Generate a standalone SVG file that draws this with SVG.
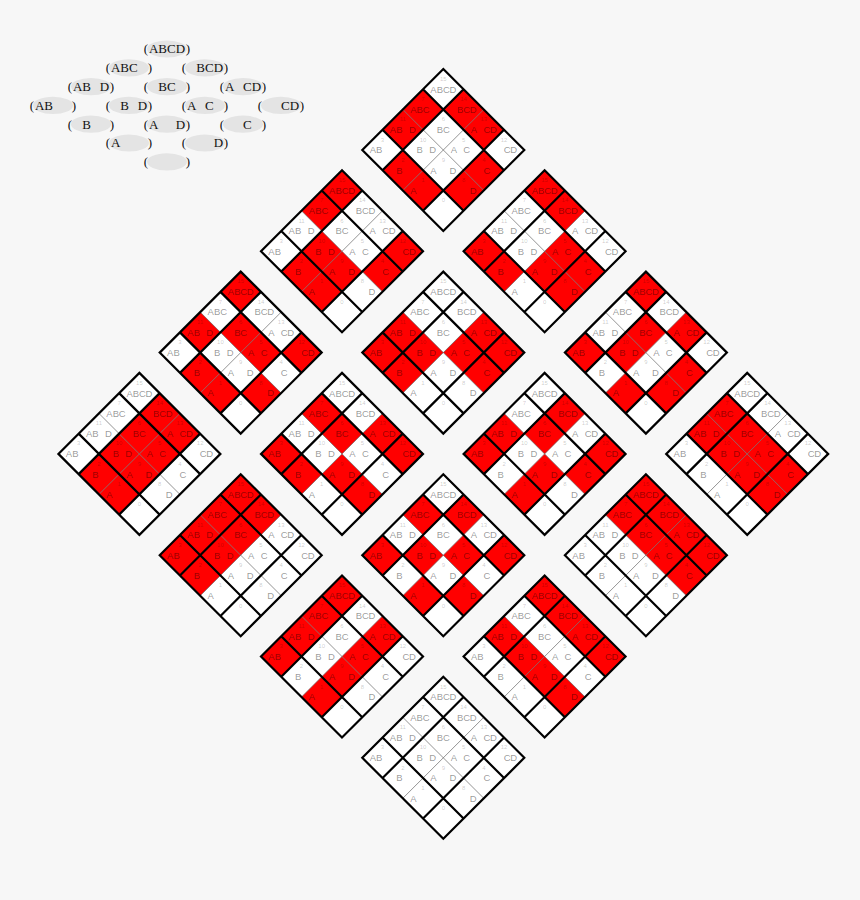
<svg xmlns="http://www.w3.org/2000/svg" xmlns:xlink="http://www.w3.org/1999/xlink" width="860" height="900" viewBox="0 0 860 900">
<style>
.l{font-family:"Liberation Sans",Arial,sans-serif;font-size:9.5px;fill:#000;fill-opacity:.42;text-anchor:middle}
.n{font-family:"Liberation Sans",Arial,sans-serif;font-size:6px;fill:#000;fill-opacity:.22;text-anchor:middle}
.g{font-family:"Liberation Serif","Times New Roman",serif;font-size:13px;fill:#111;text-anchor:middle}
.e{fill:#e4e4e4}
.r{fill:#f00}
.tk{stroke:#000;stroke-width:2.2;fill:none;stroke-linejoin:miter}
.tn{stroke:#666;stroke-width:.7;fill:none}
</style>
<defs>
<path id="bg" d="M0,0L81,81L0,162L-81,81Z" fill="#fff"/>
<path id="c" d="M0,-20.25L20.25,0L0,20.25L-20.25,0Z"/>
<g id="grid">
<path class="tn" d="M-40.5,40.5L40.5,121.5M40.5,40.5L-40.5,121.5"/>
<path class="tk" d="M0,0L81,81L0,162L-81,81Z M-20.25,20.25L60.75,101.25 M-60.75,60.75L20.25,141.75 M20.25,20.25L-60.75,101.25 M60.75,60.75L-20.25,141.75"/>
</g>
</defs>
<rect width="860" height="900" fill="#f7f7f7"/>

<g id="legend">
<g id="leg_ABCD"><ellipse class="e" cx="167" cy="49" rx="20" ry="8.6"/><text class="g" x="146 153.6 162.7 171.3 180.4 188" y="53.3">(ABCD)</text></g>
<g id="leg_BCD"><ellipse class="e" cx="205" cy="67.8" rx="20" ry="8.6"/><text class="g" x="184 191.6 200.7 209.3 218.4 226" y="72.1">( BCD)</text></g>
<g id="leg_ABC"><ellipse class="e" cx="129" cy="67.8" rx="20" ry="8.6"/><text class="g" x="108 115.6 124.7 133.3 142.4 150" y="72.1">(ABC )</text></g>
<g id="leg_ACD"><ellipse class="e" cx="243" cy="86.6" rx="20" ry="8.6"/><text class="g" x="222 229.6 238.7 247.3 256.4 264" y="90.9">(A CD)</text></g>
<g id="leg_BC"><ellipse class="e" cx="167" cy="86.6" rx="20" ry="8.6"/><text class="g" x="146 153.6 162.7 171.3 180.4 188" y="90.9">( BC )</text></g>
<g id="leg_ABD"><ellipse class="e" cx="91" cy="86.6" rx="20" ry="8.6"/><text class="g" x="70 77.6 86.7 95.3 104.4 112" y="90.9">(AB D)</text></g>
<g id="leg_CD"><ellipse class="e" cx="281" cy="105.4" rx="20" ry="8.6"/><text class="g" x="260 270 285.3 294.4 302" y="109.7">( CD)</text></g>
<g id="leg_AC"><ellipse class="e" cx="205" cy="105.4" rx="20" ry="8.6"/><text class="g" x="184 191.6 200.7 209.3 218.4 226" y="109.7">(A C )</text></g>
<g id="leg_BD"><ellipse class="e" cx="129" cy="105.4" rx="20" ry="8.6"/><text class="g" x="108 115.6 124.7 133.3 142.4 150" y="109.7">( B D)</text></g>
<g id="leg_AB"><ellipse class="e" cx="53" cy="105.4" rx="20" ry="8.6"/><text class="g" x="32 39.6 48.7 61.8 74" y="109.7">(AB )</text></g>
<g id="leg_C"><ellipse class="e" cx="243" cy="124.2" rx="20" ry="8.6"/><text class="g" x="222 233.6 247.3 256.4 264" y="128.5">( C )</text></g>
<g id="leg_AD"><ellipse class="e" cx="167" cy="124.2" rx="20" ry="8.6"/><text class="g" x="146 153.6 167 180.4 188" y="128.5">(A D)</text></g>
<g id="leg_B"><ellipse class="e" cx="91" cy="124.2" rx="20" ry="8.6"/><text class="g" x="70 77.6 86.7 99.8 112" y="128.5">( B )</text></g>
<g id="leg_D"><ellipse class="e" cx="205" cy="143" rx="20" ry="8.6"/><text class="g" x="184 200 218.4 226" y="147.3">( D)</text></g>
<g id="leg_A"><ellipse class="e" cx="129" cy="143" rx="20" ry="8.6"/><text class="g" x="108 115.6 129 150" y="147.3">(A )</text></g>
<g id="leg_empty"><ellipse class="e" cx="167" cy="161.8" rx="20" ry="8.6"/><text class="g" x="146 167 188" y="166.1">( )</text></g>
</g>

<g id="k_ABCD" transform="translate(443.3,69)">
<use href="#bg"/>
<use class="r" href="#c" x="-20.25" y="121.5"/><use class="r" href="#c" x="-40.5" y="101.25"/><use class="r" href="#c" x="40.5" y="101.25"/><use class="r" href="#c" x="20.25" y="121.5"/><use class="r" href="#c" x="-20.25" y="40.5"/><use class="r" href="#c" x="-40.5" y="60.75"/><use class="r" href="#c" x="40.5" y="60.75"/><use class="r" href="#c" x="20.25" y="40.5"/>
<use href="#grid"/>
<text class="l" x="-9.8 -3.4 3.1 9.6" y="23.7">ABCD</text><text class="l" x="16.9 23.4 29.9" y="43.9">BCD</text><text class="l" x="30.7 37.2 43.6 50.1" y="64.2">A CD</text><text class="l" x="63.9 70.4" y="84.4">CD</text><text class="l" x="-30 -23.6 -17.1" y="43.9">ABC</text><text class="l" x="-3.4 3.1" y="64.2">BC</text><text class="l" x="10.5 17 23.4" y="84.4">A C</text><text class="l" x="43.6" y="104.7">C</text><text class="l" x="-50.3 -43.9 -37.4 -30.9" y="64.2">AB D</text><text class="l" x="-23.6 -17.1 -10.6" y="84.4">B D</text><text class="l" x="-9.8 0 9.6" y="104.7">A D</text><text class="l" x="29.9" y="124.9">D</text><text class="l" x="-70.5 -64.1" y="84.4">AB</text><text class="l" x="-43.9" y="104.7">B</text><text class="l" x="-30" y="124.9">A</text>
<text class="n" x="0" y="11.9">15</text><text class="n" x="20.3" y="32.1">14</text><text class="n" x="40.5" y="52.4">13</text><text class="n" x="60.8" y="72.6">12</text><text class="n" x="-20.3" y="32.1">7</text><text class="n" x="0" y="52.4">6</text><text class="n" x="20.3" y="72.6">5</text><text class="n" x="40.5" y="92.9">4</text><text class="n" x="-40.5" y="52.4">11</text><text class="n" x="-20.3" y="72.6">10</text><text class="n" x="0" y="92.9">9</text><text class="n" x="20.3" y="113.1">8</text><text class="n" x="-60.8" y="72.6">3</text><text class="n" x="-40.5" y="92.9">2</text><text class="n" x="-20.3" y="113.1">1</text><text class="n" x="0" y="133.4">0</text>
</g>

<g id="k_BCD" transform="translate(544.6,170.3)">
<use href="#bg"/>
<use class="r" href="#c" x="-40.5" y="101.25"/><use class="r" href="#c" x="-60.75" y="81"/><use class="r" href="#c" x="40.5" y="101.25"/><use class="r" href="#c" x="20.25" y="81"/><use class="r" href="#c" x="20.25" y="121.5"/><use class="r" href="#c" x="0" y="101.25"/><use class="r" href="#c" x="20.25" y="40.5"/><use class="r" href="#c" x="0" y="20.25"/>
<use href="#grid"/>
<text class="l" x="-9.8 -3.4 3.1 9.6" y="23.7">ABCD</text><text class="l" x="16.9 23.4 29.9" y="43.9">BCD</text><text class="l" x="30.7 37.2 43.6 50.1" y="64.2">A CD</text><text class="l" x="63.9 70.4" y="84.4">CD</text><text class="l" x="-30 -23.6 -17.1" y="43.9">ABC</text><text class="l" x="-3.4 3.1" y="64.2">BC</text><text class="l" x="10.5 17 23.4" y="84.4">A C</text><text class="l" x="43.6" y="104.7">C</text><text class="l" x="-50.3 -43.9 -37.4 -30.9" y="64.2">AB D</text><text class="l" x="-23.6 -17.1 -10.6" y="84.4">B D</text><text class="l" x="-9.8 0 9.6" y="104.7">A D</text><text class="l" x="29.9" y="124.9">D</text><text class="l" x="-70.5 -64.1" y="84.4">AB</text><text class="l" x="-43.9" y="104.7">B</text><text class="l" x="-30" y="124.9">A</text>
<text class="n" x="0" y="11.9">15</text><text class="n" x="20.3" y="32.1">14</text><text class="n" x="40.5" y="52.4">13</text><text class="n" x="60.8" y="72.6">12</text><text class="n" x="-20.3" y="32.1">7</text><text class="n" x="0" y="52.4">6</text><text class="n" x="20.3" y="72.6">5</text><text class="n" x="40.5" y="92.9">4</text><text class="n" x="-40.5" y="52.4">11</text><text class="n" x="-20.3" y="72.6">10</text><text class="n" x="0" y="92.9">9</text><text class="n" x="20.3" y="113.1">8</text><text class="n" x="-60.8" y="72.6">3</text><text class="n" x="-40.5" y="92.9">2</text><text class="n" x="-20.3" y="113.1">1</text><text class="n" x="0" y="133.4">0</text>
</g>

<g id="k_ACD" transform="translate(645.9,271.6)">
<use href="#bg"/>
<use class="r" href="#c" x="-20.25" y="121.5"/><use class="r" href="#c" x="-60.75" y="81"/><use class="r" href="#c" x="40.5" y="101.25"/><use class="r" href="#c" x="0" y="60.75"/><use class="r" href="#c" x="20.25" y="121.5"/><use class="r" href="#c" x="-20.25" y="81"/><use class="r" href="#c" x="40.5" y="60.75"/><use class="r" href="#c" x="0" y="20.25"/>
<use href="#grid"/>
<text class="l" x="-9.8 -3.4 3.1 9.6" y="23.7">ABCD</text><text class="l" x="16.9 23.4 29.9" y="43.9">BCD</text><text class="l" x="30.7 37.2 43.6 50.1" y="64.2">A CD</text><text class="l" x="63.9 70.4" y="84.4">CD</text><text class="l" x="-30 -23.6 -17.1" y="43.9">ABC</text><text class="l" x="-3.4 3.1" y="64.2">BC</text><text class="l" x="10.5 17 23.4" y="84.4">A C</text><text class="l" x="43.6" y="104.7">C</text><text class="l" x="-50.3 -43.9 -37.4 -30.9" y="64.2">AB D</text><text class="l" x="-23.6 -17.1 -10.6" y="84.4">B D</text><text class="l" x="-9.8 0 9.6" y="104.7">A D</text><text class="l" x="29.9" y="124.9">D</text><text class="l" x="-70.5 -64.1" y="84.4">AB</text><text class="l" x="-43.9" y="104.7">B</text><text class="l" x="-30" y="124.9">A</text>
<text class="n" x="0" y="11.9">15</text><text class="n" x="20.3" y="32.1">14</text><text class="n" x="40.5" y="52.4">13</text><text class="n" x="60.8" y="72.6">12</text><text class="n" x="-20.3" y="32.1">7</text><text class="n" x="0" y="52.4">6</text><text class="n" x="20.3" y="72.6">5</text><text class="n" x="40.5" y="92.9">4</text><text class="n" x="-40.5" y="52.4">11</text><text class="n" x="-20.3" y="72.6">10</text><text class="n" x="0" y="92.9">9</text><text class="n" x="20.3" y="113.1">8</text><text class="n" x="-60.8" y="72.6">3</text><text class="n" x="-40.5" y="92.9">2</text><text class="n" x="-20.3" y="113.1">1</text><text class="n" x="0" y="133.4">0</text>
</g>

<g id="k_CD" transform="translate(747.2,372.9)">
<use href="#bg"/>
<use class="r" href="#c" x="40.5" y="101.25"/><use class="r" href="#c" x="20.25" y="81"/><use class="r" href="#c" x="0" y="60.75"/><use class="r" href="#c" x="-20.25" y="40.5"/><use class="r" href="#c" x="20.25" y="121.5"/><use class="r" href="#c" x="0" y="101.25"/><use class="r" href="#c" x="-20.25" y="81"/><use class="r" href="#c" x="-40.5" y="60.75"/>
<use href="#grid"/>
<text class="l" x="-9.8 -3.4 3.1 9.6" y="23.7">ABCD</text><text class="l" x="16.9 23.4 29.9" y="43.9">BCD</text><text class="l" x="30.7 37.2 43.6 50.1" y="64.2">A CD</text><text class="l" x="63.9 70.4" y="84.4">CD</text><text class="l" x="-30 -23.6 -17.1" y="43.9">ABC</text><text class="l" x="-3.4 3.1" y="64.2">BC</text><text class="l" x="10.5 17 23.4" y="84.4">A C</text><text class="l" x="43.6" y="104.7">C</text><text class="l" x="-50.3 -43.9 -37.4 -30.9" y="64.2">AB D</text><text class="l" x="-23.6 -17.1 -10.6" y="84.4">B D</text><text class="l" x="-9.8 0 9.6" y="104.7">A D</text><text class="l" x="29.9" y="124.9">D</text><text class="l" x="-70.5 -64.1" y="84.4">AB</text><text class="l" x="-43.9" y="104.7">B</text><text class="l" x="-30" y="124.9">A</text>
<text class="n" x="0" y="11.9">15</text><text class="n" x="20.3" y="32.1">14</text><text class="n" x="40.5" y="52.4">13</text><text class="n" x="60.8" y="72.6">12</text><text class="n" x="-20.3" y="32.1">7</text><text class="n" x="0" y="52.4">6</text><text class="n" x="20.3" y="72.6">5</text><text class="n" x="40.5" y="92.9">4</text><text class="n" x="-40.5" y="52.4">11</text><text class="n" x="-20.3" y="72.6">10</text><text class="n" x="0" y="92.9">9</text><text class="n" x="20.3" y="113.1">8</text><text class="n" x="-60.8" y="72.6">3</text><text class="n" x="-40.5" y="92.9">2</text><text class="n" x="-20.3" y="113.1">1</text><text class="n" x="0" y="133.4">0</text>
</g>

<g id="k_ABC" transform="translate(342,170.3)">
<use href="#bg"/>
<use class="r" href="#c" x="-20.25" y="121.5"/><use class="r" href="#c" x="-40.5" y="101.25"/><use class="r" href="#c" x="40.5" y="101.25"/><use class="r" href="#c" x="-20.25" y="40.5"/><use class="r" href="#c" x="0" y="101.25"/><use class="r" href="#c" x="-20.25" y="81"/><use class="r" href="#c" x="60.75" y="81"/><use class="r" href="#c" x="0" y="20.25"/>
<use href="#grid"/>
<text class="l" x="-9.8 -3.4 3.1 9.6" y="23.7">ABCD</text><text class="l" x="16.9 23.4 29.9" y="43.9">BCD</text><text class="l" x="30.7 37.2 43.6 50.1" y="64.2">A CD</text><text class="l" x="63.9 70.4" y="84.4">CD</text><text class="l" x="-30 -23.6 -17.1" y="43.9">ABC</text><text class="l" x="-3.4 3.1" y="64.2">BC</text><text class="l" x="10.5 17 23.4" y="84.4">A C</text><text class="l" x="43.6" y="104.7">C</text><text class="l" x="-50.3 -43.9 -37.4 -30.9" y="64.2">AB D</text><text class="l" x="-23.6 -17.1 -10.6" y="84.4">B D</text><text class="l" x="-9.8 0 9.6" y="104.7">A D</text><text class="l" x="29.9" y="124.9">D</text><text class="l" x="-70.5 -64.1" y="84.4">AB</text><text class="l" x="-43.9" y="104.7">B</text><text class="l" x="-30" y="124.9">A</text>
<text class="n" x="0" y="11.9">15</text><text class="n" x="20.3" y="32.1">14</text><text class="n" x="40.5" y="52.4">13</text><text class="n" x="60.8" y="72.6">12</text><text class="n" x="-20.3" y="32.1">7</text><text class="n" x="0" y="52.4">6</text><text class="n" x="20.3" y="72.6">5</text><text class="n" x="40.5" y="92.9">4</text><text class="n" x="-40.5" y="52.4">11</text><text class="n" x="-20.3" y="72.6">10</text><text class="n" x="0" y="92.9">9</text><text class="n" x="20.3" y="113.1">8</text><text class="n" x="-60.8" y="72.6">3</text><text class="n" x="-40.5" y="92.9">2</text><text class="n" x="-20.3" y="113.1">1</text><text class="n" x="0" y="133.4">0</text>
</g>

<g id="k_BC" transform="translate(443.3,271.6)">
<use href="#bg"/>
<use class="r" href="#c" x="-40.5" y="101.25"/><use class="r" href="#c" x="-60.75" y="81"/><use class="r" href="#c" x="40.5" y="101.25"/><use class="r" href="#c" x="20.25" y="81"/><use class="r" href="#c" x="-20.25" y="81"/><use class="r" href="#c" x="-40.5" y="60.75"/><use class="r" href="#c" x="60.75" y="81"/><use class="r" href="#c" x="40.5" y="60.75"/>
<use href="#grid"/>
<text class="l" x="-9.8 -3.4 3.1 9.6" y="23.7">ABCD</text><text class="l" x="16.9 23.4 29.9" y="43.9">BCD</text><text class="l" x="30.7 37.2 43.6 50.1" y="64.2">A CD</text><text class="l" x="63.9 70.4" y="84.4">CD</text><text class="l" x="-30 -23.6 -17.1" y="43.9">ABC</text><text class="l" x="-3.4 3.1" y="64.2">BC</text><text class="l" x="10.5 17 23.4" y="84.4">A C</text><text class="l" x="43.6" y="104.7">C</text><text class="l" x="-50.3 -43.9 -37.4 -30.9" y="64.2">AB D</text><text class="l" x="-23.6 -17.1 -10.6" y="84.4">B D</text><text class="l" x="-9.8 0 9.6" y="104.7">A D</text><text class="l" x="29.9" y="124.9">D</text><text class="l" x="-70.5 -64.1" y="84.4">AB</text><text class="l" x="-43.9" y="104.7">B</text><text class="l" x="-30" y="124.9">A</text>
<text class="n" x="0" y="11.9">15</text><text class="n" x="20.3" y="32.1">14</text><text class="n" x="40.5" y="52.4">13</text><text class="n" x="60.8" y="72.6">12</text><text class="n" x="-20.3" y="32.1">7</text><text class="n" x="0" y="52.4">6</text><text class="n" x="20.3" y="72.6">5</text><text class="n" x="40.5" y="92.9">4</text><text class="n" x="-40.5" y="52.4">11</text><text class="n" x="-20.3" y="72.6">10</text><text class="n" x="0" y="92.9">9</text><text class="n" x="20.3" y="113.1">8</text><text class="n" x="-60.8" y="72.6">3</text><text class="n" x="-40.5" y="92.9">2</text><text class="n" x="-20.3" y="113.1">1</text><text class="n" x="0" y="133.4">0</text>
</g>

<g id="k_AC" transform="translate(544.6,372.9)">
<use href="#bg"/>
<use class="r" href="#c" x="-20.25" y="121.5"/><use class="r" href="#c" x="-60.75" y="81"/><use class="r" href="#c" x="40.5" y="101.25"/><use class="r" href="#c" x="0" y="60.75"/><use class="r" href="#c" x="0" y="101.25"/><use class="r" href="#c" x="-40.5" y="60.75"/><use class="r" href="#c" x="60.75" y="81"/><use class="r" href="#c" x="20.25" y="40.5"/>
<use href="#grid"/>
<text class="l" x="-9.8 -3.4 3.1 9.6" y="23.7">ABCD</text><text class="l" x="16.9 23.4 29.9" y="43.9">BCD</text><text class="l" x="30.7 37.2 43.6 50.1" y="64.2">A CD</text><text class="l" x="63.9 70.4" y="84.4">CD</text><text class="l" x="-30 -23.6 -17.1" y="43.9">ABC</text><text class="l" x="-3.4 3.1" y="64.2">BC</text><text class="l" x="10.5 17 23.4" y="84.4">A C</text><text class="l" x="43.6" y="104.7">C</text><text class="l" x="-50.3 -43.9 -37.4 -30.9" y="64.2">AB D</text><text class="l" x="-23.6 -17.1 -10.6" y="84.4">B D</text><text class="l" x="-9.8 0 9.6" y="104.7">A D</text><text class="l" x="29.9" y="124.9">D</text><text class="l" x="-70.5 -64.1" y="84.4">AB</text><text class="l" x="-43.9" y="104.7">B</text><text class="l" x="-30" y="124.9">A</text>
<text class="n" x="0" y="11.9">15</text><text class="n" x="20.3" y="32.1">14</text><text class="n" x="40.5" y="52.4">13</text><text class="n" x="60.8" y="72.6">12</text><text class="n" x="-20.3" y="32.1">7</text><text class="n" x="0" y="52.4">6</text><text class="n" x="20.3" y="72.6">5</text><text class="n" x="40.5" y="92.9">4</text><text class="n" x="-40.5" y="52.4">11</text><text class="n" x="-20.3" y="72.6">10</text><text class="n" x="0" y="92.9">9</text><text class="n" x="20.3" y="113.1">8</text><text class="n" x="-60.8" y="72.6">3</text><text class="n" x="-40.5" y="92.9">2</text><text class="n" x="-20.3" y="113.1">1</text><text class="n" x="0" y="133.4">0</text>
</g>

<g id="k_C" transform="translate(645.9,474.2)">
<use href="#bg"/>
<use class="r" href="#c" x="40.5" y="101.25"/><use class="r" href="#c" x="20.25" y="81"/><use class="r" href="#c" x="0" y="60.75"/><use class="r" href="#c" x="-20.25" y="40.5"/><use class="r" href="#c" x="60.75" y="81"/><use class="r" href="#c" x="40.5" y="60.75"/><use class="r" href="#c" x="20.25" y="40.5"/><use class="r" href="#c" x="0" y="20.25"/>
<use href="#grid"/>
<text class="l" x="-9.8 -3.4 3.1 9.6" y="23.7">ABCD</text><text class="l" x="16.9 23.4 29.9" y="43.9">BCD</text><text class="l" x="30.7 37.2 43.6 50.1" y="64.2">A CD</text><text class="l" x="63.9 70.4" y="84.4">CD</text><text class="l" x="-30 -23.6 -17.1" y="43.9">ABC</text><text class="l" x="-3.4 3.1" y="64.2">BC</text><text class="l" x="10.5 17 23.4" y="84.4">A C</text><text class="l" x="43.6" y="104.7">C</text><text class="l" x="-50.3 -43.9 -37.4 -30.9" y="64.2">AB D</text><text class="l" x="-23.6 -17.1 -10.6" y="84.4">B D</text><text class="l" x="-9.8 0 9.6" y="104.7">A D</text><text class="l" x="29.9" y="124.9">D</text><text class="l" x="-70.5 -64.1" y="84.4">AB</text><text class="l" x="-43.9" y="104.7">B</text><text class="l" x="-30" y="124.9">A</text>
<text class="n" x="0" y="11.9">15</text><text class="n" x="20.3" y="32.1">14</text><text class="n" x="40.5" y="52.4">13</text><text class="n" x="60.8" y="72.6">12</text><text class="n" x="-20.3" y="32.1">7</text><text class="n" x="0" y="52.4">6</text><text class="n" x="20.3" y="72.6">5</text><text class="n" x="40.5" y="92.9">4</text><text class="n" x="-40.5" y="52.4">11</text><text class="n" x="-20.3" y="72.6">10</text><text class="n" x="0" y="92.9">9</text><text class="n" x="20.3" y="113.1">8</text><text class="n" x="-60.8" y="72.6">3</text><text class="n" x="-40.5" y="92.9">2</text><text class="n" x="-20.3" y="113.1">1</text><text class="n" x="0" y="133.4">0</text>
</g>

<g id="k_ABD" transform="translate(240.7,271.6)">
<use href="#bg"/>
<use class="r" href="#c" x="-20.25" y="121.5"/><use class="r" href="#c" x="-40.5" y="101.25"/><use class="r" href="#c" x="20.25" y="81"/><use class="r" href="#c" x="0" y="60.75"/><use class="r" href="#c" x="20.25" y="121.5"/><use class="r" href="#c" x="-40.5" y="60.75"/><use class="r" href="#c" x="60.75" y="81"/><use class="r" href="#c" x="0" y="20.25"/>
<use href="#grid"/>
<text class="l" x="-9.8 -3.4 3.1 9.6" y="23.7">ABCD</text><text class="l" x="16.9 23.4 29.9" y="43.9">BCD</text><text class="l" x="30.7 37.2 43.6 50.1" y="64.2">A CD</text><text class="l" x="63.9 70.4" y="84.4">CD</text><text class="l" x="-30 -23.6 -17.1" y="43.9">ABC</text><text class="l" x="-3.4 3.1" y="64.2">BC</text><text class="l" x="10.5 17 23.4" y="84.4">A C</text><text class="l" x="43.6" y="104.7">C</text><text class="l" x="-50.3 -43.9 -37.4 -30.9" y="64.2">AB D</text><text class="l" x="-23.6 -17.1 -10.6" y="84.4">B D</text><text class="l" x="-9.8 0 9.6" y="104.7">A D</text><text class="l" x="29.9" y="124.9">D</text><text class="l" x="-70.5 -64.1" y="84.4">AB</text><text class="l" x="-43.9" y="104.7">B</text><text class="l" x="-30" y="124.9">A</text>
<text class="n" x="0" y="11.9">15</text><text class="n" x="20.3" y="32.1">14</text><text class="n" x="40.5" y="52.4">13</text><text class="n" x="60.8" y="72.6">12</text><text class="n" x="-20.3" y="32.1">7</text><text class="n" x="0" y="52.4">6</text><text class="n" x="20.3" y="72.6">5</text><text class="n" x="40.5" y="92.9">4</text><text class="n" x="-40.5" y="52.4">11</text><text class="n" x="-20.3" y="72.6">10</text><text class="n" x="0" y="92.9">9</text><text class="n" x="20.3" y="113.1">8</text><text class="n" x="-60.8" y="72.6">3</text><text class="n" x="-40.5" y="92.9">2</text><text class="n" x="-20.3" y="113.1">1</text><text class="n" x="0" y="133.4">0</text>
</g>

<g id="k_BD" transform="translate(342,372.9)">
<use href="#bg"/>
<use class="r" href="#c" x="-40.5" y="101.25"/><use class="r" href="#c" x="-60.75" y="81"/><use class="r" href="#c" x="0" y="60.75"/><use class="r" href="#c" x="-20.25" y="40.5"/><use class="r" href="#c" x="20.25" y="121.5"/><use class="r" href="#c" x="0" y="101.25"/><use class="r" href="#c" x="60.75" y="81"/><use class="r" href="#c" x="40.5" y="60.75"/>
<use href="#grid"/>
<text class="l" x="-9.8 -3.4 3.1 9.6" y="23.7">ABCD</text><text class="l" x="16.9 23.4 29.9" y="43.9">BCD</text><text class="l" x="30.7 37.2 43.6 50.1" y="64.2">A CD</text><text class="l" x="63.9 70.4" y="84.4">CD</text><text class="l" x="-30 -23.6 -17.1" y="43.9">ABC</text><text class="l" x="-3.4 3.1" y="64.2">BC</text><text class="l" x="10.5 17 23.4" y="84.4">A C</text><text class="l" x="43.6" y="104.7">C</text><text class="l" x="-50.3 -43.9 -37.4 -30.9" y="64.2">AB D</text><text class="l" x="-23.6 -17.1 -10.6" y="84.4">B D</text><text class="l" x="-9.8 0 9.6" y="104.7">A D</text><text class="l" x="29.9" y="124.9">D</text><text class="l" x="-70.5 -64.1" y="84.4">AB</text><text class="l" x="-43.9" y="104.7">B</text><text class="l" x="-30" y="124.9">A</text>
<text class="n" x="0" y="11.9">15</text><text class="n" x="20.3" y="32.1">14</text><text class="n" x="40.5" y="52.4">13</text><text class="n" x="60.8" y="72.6">12</text><text class="n" x="-20.3" y="32.1">7</text><text class="n" x="0" y="52.4">6</text><text class="n" x="20.3" y="72.6">5</text><text class="n" x="40.5" y="92.9">4</text><text class="n" x="-40.5" y="52.4">11</text><text class="n" x="-20.3" y="72.6">10</text><text class="n" x="0" y="92.9">9</text><text class="n" x="20.3" y="113.1">8</text><text class="n" x="-60.8" y="72.6">3</text><text class="n" x="-40.5" y="92.9">2</text><text class="n" x="-20.3" y="113.1">1</text><text class="n" x="0" y="133.4">0</text>
</g>

<g id="k_AD" transform="translate(443.3,474.2)">
<use href="#bg"/>
<use class="r" href="#c" x="-20.25" y="121.5"/><use class="r" href="#c" x="-60.75" y="81"/><use class="r" href="#c" x="20.25" y="81"/><use class="r" href="#c" x="-20.25" y="40.5"/><use class="r" href="#c" x="20.25" y="121.5"/><use class="r" href="#c" x="-20.25" y="81"/><use class="r" href="#c" x="60.75" y="81"/><use class="r" href="#c" x="20.25" y="40.5"/>
<use href="#grid"/>
<text class="l" x="-9.8 -3.4 3.1 9.6" y="23.7">ABCD</text><text class="l" x="16.9 23.4 29.9" y="43.9">BCD</text><text class="l" x="30.7 37.2 43.6 50.1" y="64.2">A CD</text><text class="l" x="63.9 70.4" y="84.4">CD</text><text class="l" x="-30 -23.6 -17.1" y="43.9">ABC</text><text class="l" x="-3.4 3.1" y="64.2">BC</text><text class="l" x="10.5 17 23.4" y="84.4">A C</text><text class="l" x="43.6" y="104.7">C</text><text class="l" x="-50.3 -43.9 -37.4 -30.9" y="64.2">AB D</text><text class="l" x="-23.6 -17.1 -10.6" y="84.4">B D</text><text class="l" x="-9.8 0 9.6" y="104.7">A D</text><text class="l" x="29.9" y="124.9">D</text><text class="l" x="-70.5 -64.1" y="84.4">AB</text><text class="l" x="-43.9" y="104.7">B</text><text class="l" x="-30" y="124.9">A</text>
<text class="n" x="0" y="11.9">15</text><text class="n" x="20.3" y="32.1">14</text><text class="n" x="40.5" y="52.4">13</text><text class="n" x="60.8" y="72.6">12</text><text class="n" x="-20.3" y="32.1">7</text><text class="n" x="0" y="52.4">6</text><text class="n" x="20.3" y="72.6">5</text><text class="n" x="40.5" y="92.9">4</text><text class="n" x="-40.5" y="52.4">11</text><text class="n" x="-20.3" y="72.6">10</text><text class="n" x="0" y="92.9">9</text><text class="n" x="20.3" y="113.1">8</text><text class="n" x="-60.8" y="72.6">3</text><text class="n" x="-40.5" y="92.9">2</text><text class="n" x="-20.3" y="113.1">1</text><text class="n" x="0" y="133.4">0</text>
</g>

<g id="k_D" transform="translate(544.6,575.5)">
<use href="#bg"/>
<use class="r" href="#c" x="20.25" y="121.5"/><use class="r" href="#c" x="0" y="101.25"/><use class="r" href="#c" x="-20.25" y="81"/><use class="r" href="#c" x="-40.5" y="60.75"/><use class="r" href="#c" x="60.75" y="81"/><use class="r" href="#c" x="40.5" y="60.75"/><use class="r" href="#c" x="20.25" y="40.5"/><use class="r" href="#c" x="0" y="20.25"/>
<use href="#grid"/>
<text class="l" x="-9.8 -3.4 3.1 9.6" y="23.7">ABCD</text><text class="l" x="16.9 23.4 29.9" y="43.9">BCD</text><text class="l" x="30.7 37.2 43.6 50.1" y="64.2">A CD</text><text class="l" x="63.9 70.4" y="84.4">CD</text><text class="l" x="-30 -23.6 -17.1" y="43.9">ABC</text><text class="l" x="-3.4 3.1" y="64.2">BC</text><text class="l" x="10.5 17 23.4" y="84.4">A C</text><text class="l" x="43.6" y="104.7">C</text><text class="l" x="-50.3 -43.9 -37.4 -30.9" y="64.2">AB D</text><text class="l" x="-23.6 -17.1 -10.6" y="84.4">B D</text><text class="l" x="-9.8 0 9.6" y="104.7">A D</text><text class="l" x="29.9" y="124.9">D</text><text class="l" x="-70.5 -64.1" y="84.4">AB</text><text class="l" x="-43.9" y="104.7">B</text><text class="l" x="-30" y="124.9">A</text>
<text class="n" x="0" y="11.9">15</text><text class="n" x="20.3" y="32.1">14</text><text class="n" x="40.5" y="52.4">13</text><text class="n" x="60.8" y="72.6">12</text><text class="n" x="-20.3" y="32.1">7</text><text class="n" x="0" y="52.4">6</text><text class="n" x="20.3" y="72.6">5</text><text class="n" x="40.5" y="92.9">4</text><text class="n" x="-40.5" y="52.4">11</text><text class="n" x="-20.3" y="72.6">10</text><text class="n" x="0" y="92.9">9</text><text class="n" x="20.3" y="113.1">8</text><text class="n" x="-60.8" y="72.6">3</text><text class="n" x="-40.5" y="92.9">2</text><text class="n" x="-20.3" y="113.1">1</text><text class="n" x="0" y="133.4">0</text>
</g>

<g id="k_AB" transform="translate(139.4,372.9)">
<use href="#bg"/>
<use class="r" href="#c" x="-20.25" y="121.5"/><use class="r" href="#c" x="-40.5" y="101.25"/><use class="r" href="#c" x="20.25" y="81"/><use class="r" href="#c" x="0" y="60.75"/><use class="r" href="#c" x="0" y="101.25"/><use class="r" href="#c" x="-20.25" y="81"/><use class="r" href="#c" x="40.5" y="60.75"/><use class="r" href="#c" x="20.25" y="40.5"/>
<use href="#grid"/>
<text class="l" x="-9.8 -3.4 3.1 9.6" y="23.7">ABCD</text><text class="l" x="16.9 23.4 29.9" y="43.9">BCD</text><text class="l" x="30.7 37.2 43.6 50.1" y="64.2">A CD</text><text class="l" x="63.9 70.4" y="84.4">CD</text><text class="l" x="-30 -23.6 -17.1" y="43.9">ABC</text><text class="l" x="-3.4 3.1" y="64.2">BC</text><text class="l" x="10.5 17 23.4" y="84.4">A C</text><text class="l" x="43.6" y="104.7">C</text><text class="l" x="-50.3 -43.9 -37.4 -30.9" y="64.2">AB D</text><text class="l" x="-23.6 -17.1 -10.6" y="84.4">B D</text><text class="l" x="-9.8 0 9.6" y="104.7">A D</text><text class="l" x="29.9" y="124.9">D</text><text class="l" x="-70.5 -64.1" y="84.4">AB</text><text class="l" x="-43.9" y="104.7">B</text><text class="l" x="-30" y="124.9">A</text>
<text class="n" x="0" y="11.9">15</text><text class="n" x="20.3" y="32.1">14</text><text class="n" x="40.5" y="52.4">13</text><text class="n" x="60.8" y="72.6">12</text><text class="n" x="-20.3" y="32.1">7</text><text class="n" x="0" y="52.4">6</text><text class="n" x="20.3" y="72.6">5</text><text class="n" x="40.5" y="92.9">4</text><text class="n" x="-40.5" y="52.4">11</text><text class="n" x="-20.3" y="72.6">10</text><text class="n" x="0" y="92.9">9</text><text class="n" x="20.3" y="113.1">8</text><text class="n" x="-60.8" y="72.6">3</text><text class="n" x="-40.5" y="92.9">2</text><text class="n" x="-20.3" y="113.1">1</text><text class="n" x="0" y="133.4">0</text>
</g>

<g id="k_B" transform="translate(240.7,474.2)">
<use href="#bg"/>
<use class="r" href="#c" x="-40.5" y="101.25"/><use class="r" href="#c" x="-60.75" y="81"/><use class="r" href="#c" x="0" y="60.75"/><use class="r" href="#c" x="-20.25" y="40.5"/><use class="r" href="#c" x="-20.25" y="81"/><use class="r" href="#c" x="-40.5" y="60.75"/><use class="r" href="#c" x="20.25" y="40.5"/><use class="r" href="#c" x="0" y="20.25"/>
<use href="#grid"/>
<text class="l" x="-9.8 -3.4 3.1 9.6" y="23.7">ABCD</text><text class="l" x="16.9 23.4 29.9" y="43.9">BCD</text><text class="l" x="30.7 37.2 43.6 50.1" y="64.2">A CD</text><text class="l" x="63.9 70.4" y="84.4">CD</text><text class="l" x="-30 -23.6 -17.1" y="43.9">ABC</text><text class="l" x="-3.4 3.1" y="64.2">BC</text><text class="l" x="10.5 17 23.4" y="84.4">A C</text><text class="l" x="43.6" y="104.7">C</text><text class="l" x="-50.3 -43.9 -37.4 -30.9" y="64.2">AB D</text><text class="l" x="-23.6 -17.1 -10.6" y="84.4">B D</text><text class="l" x="-9.8 0 9.6" y="104.7">A D</text><text class="l" x="29.9" y="124.9">D</text><text class="l" x="-70.5 -64.1" y="84.4">AB</text><text class="l" x="-43.9" y="104.7">B</text><text class="l" x="-30" y="124.9">A</text>
<text class="n" x="0" y="11.9">15</text><text class="n" x="20.3" y="32.1">14</text><text class="n" x="40.5" y="52.4">13</text><text class="n" x="60.8" y="72.6">12</text><text class="n" x="-20.3" y="32.1">7</text><text class="n" x="0" y="52.4">6</text><text class="n" x="20.3" y="72.6">5</text><text class="n" x="40.5" y="92.9">4</text><text class="n" x="-40.5" y="52.4">11</text><text class="n" x="-20.3" y="72.6">10</text><text class="n" x="0" y="92.9">9</text><text class="n" x="20.3" y="113.1">8</text><text class="n" x="-60.8" y="72.6">3</text><text class="n" x="-40.5" y="92.9">2</text><text class="n" x="-20.3" y="113.1">1</text><text class="n" x="0" y="133.4">0</text>
</g>

<g id="k_A" transform="translate(342,575.5)">
<use href="#bg"/>
<use class="r" href="#c" x="-20.25" y="121.5"/><use class="r" href="#c" x="-60.75" y="81"/><use class="r" href="#c" x="20.25" y="81"/><use class="r" href="#c" x="-20.25" y="40.5"/><use class="r" href="#c" x="0" y="101.25"/><use class="r" href="#c" x="-40.5" y="60.75"/><use class="r" href="#c" x="40.5" y="60.75"/><use class="r" href="#c" x="0" y="20.25"/>
<use href="#grid"/>
<text class="l" x="-9.8 -3.4 3.1 9.6" y="23.7">ABCD</text><text class="l" x="16.9 23.4 29.9" y="43.9">BCD</text><text class="l" x="30.7 37.2 43.6 50.1" y="64.2">A CD</text><text class="l" x="63.9 70.4" y="84.4">CD</text><text class="l" x="-30 -23.6 -17.1" y="43.9">ABC</text><text class="l" x="-3.4 3.1" y="64.2">BC</text><text class="l" x="10.5 17 23.4" y="84.4">A C</text><text class="l" x="43.6" y="104.7">C</text><text class="l" x="-50.3 -43.9 -37.4 -30.9" y="64.2">AB D</text><text class="l" x="-23.6 -17.1 -10.6" y="84.4">B D</text><text class="l" x="-9.8 0 9.6" y="104.7">A D</text><text class="l" x="29.9" y="124.9">D</text><text class="l" x="-70.5 -64.1" y="84.4">AB</text><text class="l" x="-43.9" y="104.7">B</text><text class="l" x="-30" y="124.9">A</text>
<text class="n" x="0" y="11.9">15</text><text class="n" x="20.3" y="32.1">14</text><text class="n" x="40.5" y="52.4">13</text><text class="n" x="60.8" y="72.6">12</text><text class="n" x="-20.3" y="32.1">7</text><text class="n" x="0" y="52.4">6</text><text class="n" x="20.3" y="72.6">5</text><text class="n" x="40.5" y="92.9">4</text><text class="n" x="-40.5" y="52.4">11</text><text class="n" x="-20.3" y="72.6">10</text><text class="n" x="0" y="92.9">9</text><text class="n" x="20.3" y="113.1">8</text><text class="n" x="-60.8" y="72.6">3</text><text class="n" x="-40.5" y="92.9">2</text><text class="n" x="-20.3" y="113.1">1</text><text class="n" x="0" y="133.4">0</text>
</g>

<g id="k_empty" transform="translate(443.3,676.8)">
<use href="#bg"/>
<use href="#grid"/>
<text class="l" x="-9.8 -3.4 3.1 9.6" y="23.7">ABCD</text><text class="l" x="16.9 23.4 29.9" y="43.9">BCD</text><text class="l" x="30.7 37.2 43.6 50.1" y="64.2">A CD</text><text class="l" x="63.9 70.4" y="84.4">CD</text><text class="l" x="-30 -23.6 -17.1" y="43.9">ABC</text><text class="l" x="-3.4 3.1" y="64.2">BC</text><text class="l" x="10.5 17 23.4" y="84.4">A C</text><text class="l" x="43.6" y="104.7">C</text><text class="l" x="-50.3 -43.9 -37.4 -30.9" y="64.2">AB D</text><text class="l" x="-23.6 -17.1 -10.6" y="84.4">B D</text><text class="l" x="-9.8 0 9.6" y="104.7">A D</text><text class="l" x="29.9" y="124.9">D</text><text class="l" x="-70.5 -64.1" y="84.4">AB</text><text class="l" x="-43.9" y="104.7">B</text><text class="l" x="-30" y="124.9">A</text>
<text class="n" x="0" y="11.9">15</text><text class="n" x="20.3" y="32.1">14</text><text class="n" x="40.5" y="52.4">13</text><text class="n" x="60.8" y="72.6">12</text><text class="n" x="-20.3" y="32.1">7</text><text class="n" x="0" y="52.4">6</text><text class="n" x="20.3" y="72.6">5</text><text class="n" x="40.5" y="92.9">4</text><text class="n" x="-40.5" y="52.4">11</text><text class="n" x="-20.3" y="72.6">10</text><text class="n" x="0" y="92.9">9</text><text class="n" x="20.3" y="113.1">8</text><text class="n" x="-60.8" y="72.6">3</text><text class="n" x="-40.5" y="92.9">2</text><text class="n" x="-20.3" y="113.1">1</text><text class="n" x="0" y="133.4">0</text>
</g>
</svg>
